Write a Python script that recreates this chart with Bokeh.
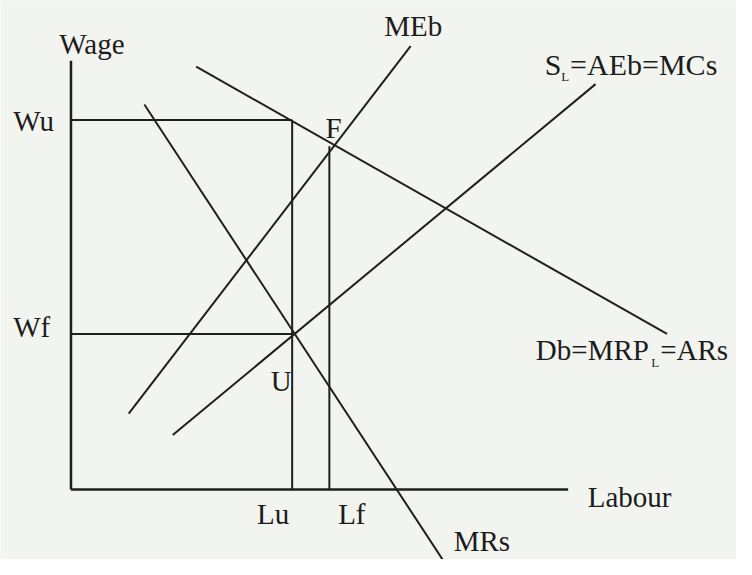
from bokeh.plotting import figure
from bokeh.models import Range1d
from bokeh.core.properties import value
from bokeh.embed import file_html
from bokeh.resources import INLINE

# ---- data (diagram units: labour on x, wage on y) ----
axis_x_end = 50.8
axis_y_end = 44.1
wage_levels = {"Wu": 38.0, "Wf": 16.0}
labour_levels = {"Lu": 22.6, "Lf": 26.4}
wage_at_F = 35.3

db_x = [12.8, 60.9]     # Db = MRP_L = ARs
db_y = [43.5, 16.0]
mrs_x = [7.5, 38.1]     # MRs
mrs_y = [39.6, -7.4]
meb_x = [5.9, 34.7]     # MEb
meb_y = [7.8, 45.6]
sl_x = [10.4, 53.6]     # S_L = AEb = MCs
sl_y = [5.6, 41.7]

BG = "#f2f4f0"
INK = "#1f1f1f"
FONT = value("Liberation Serif")

p = figure(width=736, height=559, output_backend="svg", toolbar_location=None,
           x_range=Range1d(-7.2, 68.0), y_range=Range1d(-7.2, 50.3),
           min_border=0)
p.axis.visible = False
p.grid.visible = False
p.outline_line_color = None
p.background_fill_color = BG
p.border_fill_color = BG

# axes
p.line([0, 0], [0, axis_y_end], line_color=INK, line_width=2.5)
p.line([0, axis_x_end], [0, 0], line_color=INK, line_width=2.5)

# guide lines
Wu, Wf = wage_levels["Wu"], wage_levels["Wf"]
Lu, Lf = labour_levels["Lu"], labour_levels["Lf"]
p.line([0, Lu], [Wu, Wu], line_color=INK, line_width=2)
p.line([Lu, Lu], [Wu, 0], line_color=INK, line_width=2)
p.line([0, Lu], [Wf, Wf], line_color=INK, line_width=2)
p.line([Lf, Lf], [wage_at_F, 0], line_color=INK, line_width=2)

# curves
for xs, ys in [(db_x, db_y), (mrs_x, mrs_y), (meb_x, meb_y), (sl_x, sl_y)]:
    p.line(xs, ys, line_color=INK, line_width=2)

def label(x, y, t, size="29px"):
    p.text(x=[x], y=[y + 0.7], text=[t], text_font=FONT, text_font_size=size,
           text_color="#1c1c1c", text_align="left", text_baseline="alphabetic")

label(-1.2, 45.1, "Wage")
label(-5.9, 37.2, "Wu")
label(-5.9, 16.0, "Wf")
label(32.0, 47.0, "MEb")
label(48.4, 43.0, "S", "30px")
label(50.1, 41.8, "L", "13px")
label(51.0, 43.0, "=AEb=MCs", "30px")
label(47.5, 13.6, "Db=MRP")
label(59.3, 12.4, "L", "13px")
label(60.2, 13.6, "=ARs")
label(26.0, 36.5, "F")
label(20.4, 10.5, "U")
label(19.0, -3.2, "Lu")
label(27.3, -3.2, "Lf")
label(52.8, -1.5, "Labour")
label(39.1, -6.0, "MRs")

html = file_html(p, INLINE)
html = html.replace("<body>", '<body style="background-color:%s;">' % BG, 1)
open("out.html", "w").write(html)
